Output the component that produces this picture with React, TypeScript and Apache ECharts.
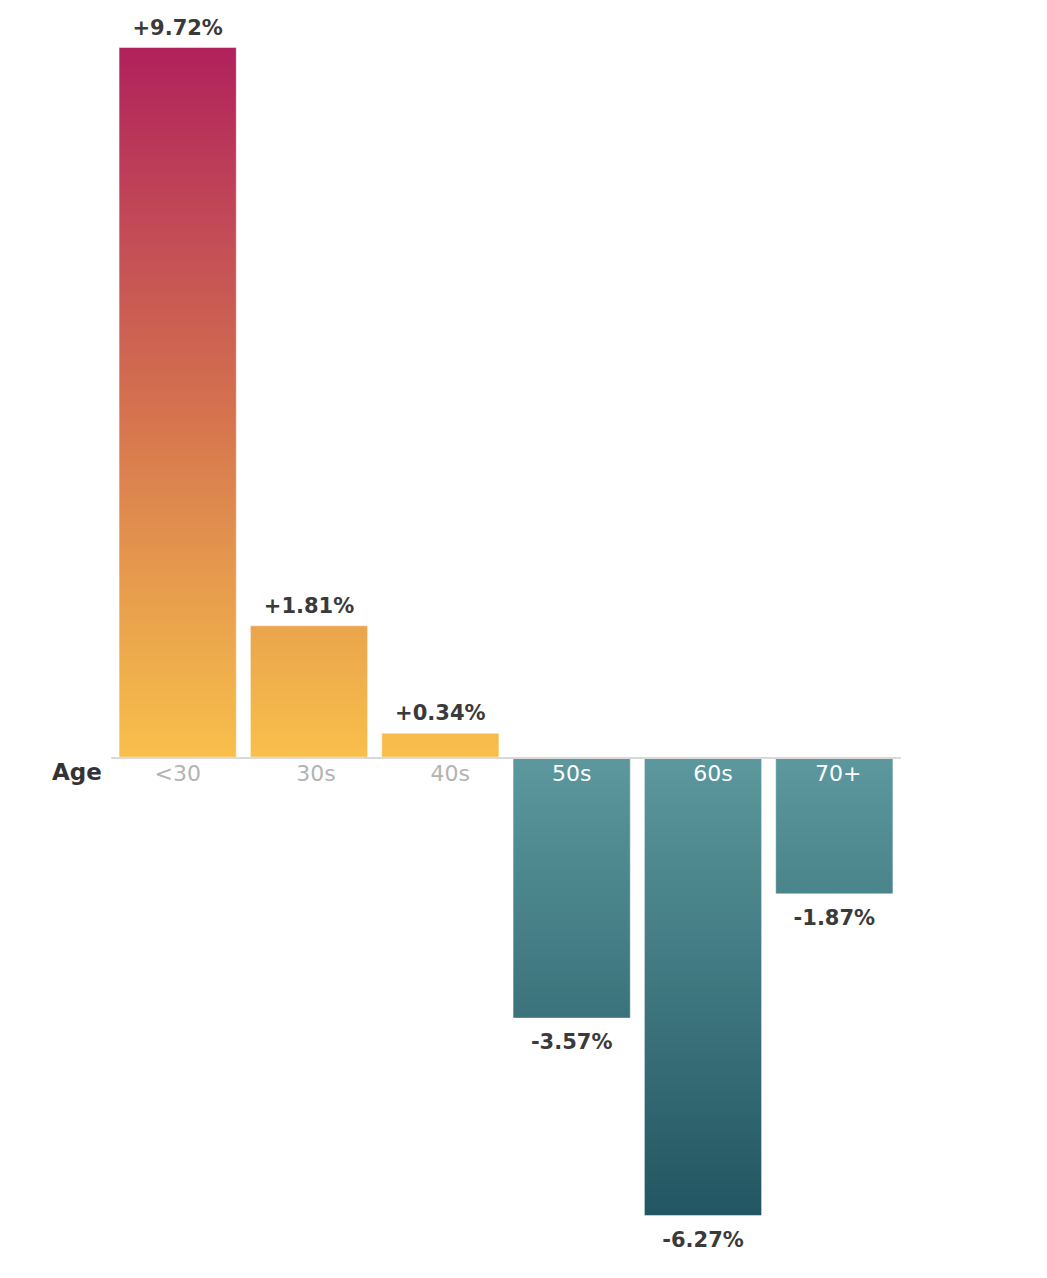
import React, { useEffect, useRef } from "react";
import * as echarts from "echarts";

const categories = ["<30", "30s", "40s", "50s", "60s", "70+"];
const values = [9.72, 1.81, 0.34, -3.57, -6.27, -1.87];
const labelShift = [0, 7, 10, 0, 10, 4];
const axisTitle = "Age";

const W = 1047;
const H = 1278;
const GRID_TOP = 47;
const GRID_BOTTOM = 62;
const Y_MAX = 9.72;
const Y_MIN = -6.27;

export default function App() {
  const ref = useRef<HTMLDivElement>(null);
  useEffect(() => {
    if (!ref.current) return;
    const chart = echarts.init(ref.current, undefined, { renderer: "svg" });
    const plotH = H - GRID_TOP - GRID_BOTTOM;
    const zeroY = GRID_TOP + (Y_MAX / (Y_MAX - Y_MIN)) * plotH;
    const bottomY = H - GRID_BOTTOM;
    const posGrad = new echarts.graphic.LinearGradient(
      0, GRID_TOP, 0, zeroY,
      [
        { offset: 0, color: "#b0215c" },
        { offset: 0.25, color: "#c24a57" },
        { offset: 0.5, color: "#d4704f" },
        { offset: 0.75, color: "#e69b4d" },
        { offset: 1, color: "#f8c04b" },
      ],
      true
    );
    const negGrad = new echarts.graphic.LinearGradient(
      0, zeroY, 0, bottomY,
      [
        { offset: 0, color: "#5c989d" },
        { offset: 1, color: "#225662" },
      ],
      true
    );
    chart.setOption({
      animation: false,
      grid: { left: 112, right: 147, top: GRID_TOP, bottom: GRID_BOTTOM, containLabel: false },
      xAxis: {
        type: "category",
        data: categories,
        z: 5,
        axisLine: { show: true, onZero: true, lineStyle: { color: "#d9d9d9", width: 2 } },
        axisTick: { show: false },
        axisLabel: { show: false },
      },
      yAxis: {
        type: "value",
        min: Y_MIN,
        max: Y_MAX,
        show: false,
        splitLine: { show: false },
      },
      graphic: [
        {
          type: "text",
          left: 52,
          top: 760,
          style: {
            text: axisTitle,
            fontFamily: "DejaVu Sans",
            fontWeight: "bold",
            fontSize: 23,
            fill: "#333333",
          },
        },
      ],
      series: [
        {
          type: "bar",
          barCategoryGap: "10%",
          z: 2,
          data: values.map((v) => ({
            value: v,
            itemStyle: {
              color: v >= 0 ? posGrad : negGrad,
              borderColor: "rgba(255,255,255,0.45)",
              borderWidth: 1,
            },
            label: {
              show: true,
              position: v >= 0 ? "top" : "bottom",
              distance: v >= 0 ? 9 : 13,
              formatter: () => (v > 0 ? `+${v.toFixed(2)}%` : `${v.toFixed(2)}%`),
              fontFamily: "DejaVu Sans",
              fontWeight: "bold",
              fontSize: 21,
              color: "#3a3a3a",
            },
          })),
        },
        {
          type: "bar",
          barGap: "-100%",
          barCategoryGap: "10%",
          z: 6,
          silent: true,
          data: categories.map((c, i) => ({
            value: 0,
            itemStyle: { color: "rgba(0,0,0,0)" },
            label: {
              show: true,
              position: "bottom",
              distance: 5,
              offset: [labelShift[i], 0],
              formatter: () => c,
              fontFamily: "DejaVu Sans",
              fontSize: 22,
              color: values[i] < 0 ? "#ffffff" : "#b3b3b3",
            },
          })),
        },
      ],
    });
    return () => chart.dispose();
  }, []);
  return (
    <div
      ref={ref}
      style={{ position: "absolute", left: 0, top: 0, width: W, height: H, background: "#fff" }}
    />
  );
}
